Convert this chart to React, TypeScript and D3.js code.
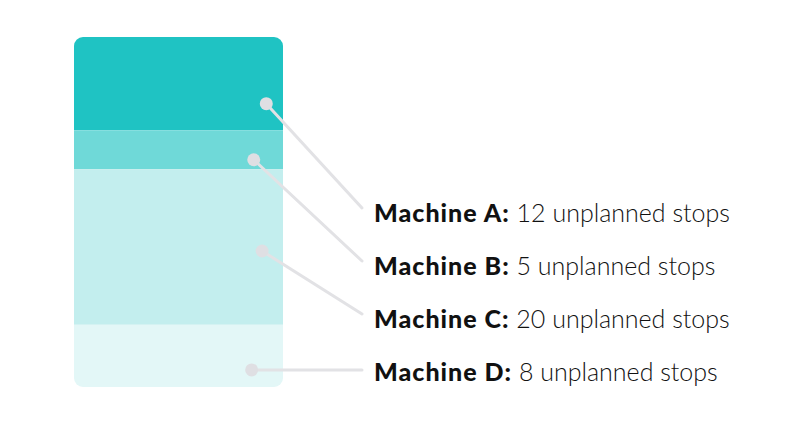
import { useEffect, useRef } from 'react';
import * as d3 from 'd3';

const machines = ['Machine A', 'Machine B', 'Machine C', 'Machine D'];
const stops = [12, 5, 20, 8];
const colors = ['#1fc3c3', '#6fd9d8', '#c3eeee', '#e3f7f7'];
// where each leader dot sits inside its segment (fraction of bar width, px below segment middle)
const dotX = [0.92, 0.86, 0.90, 0.85];
const dotDy = [20, 10, 4, 14];

const App = () => {
  const svgRef = useRef<SVGSVGElement>(null);

  useEffect(() => {
    const svg = d3.select(svgRef.current);
    svg.selectAll('*').remove();

    const width = 800;
    const height = 445;
    const bar = { x: 74, y: 37, w: 209, h: 350 };

    svg.attr('width', width).attr('height', height);

    const total = d3.sum(stops);
    const y = d3.scaleLinear().domain([0, total]).range([bar.y, bar.y + bar.h]);
    const starts = d3.cumsum([0, ...stops]);

    const defs = svg.append('defs');
    defs
      .append('clipPath')
      .attr('id', 'barClip')
      .append('rect')
      .attr('x', bar.x)
      .attr('y', bar.y)
      .attr('width', bar.w)
      .attr('height', bar.h)
      .attr('rx', 9);

    // stacked segments
    svg
      .append('g')
      .attr('clip-path', 'url(#barClip)')
      .selectAll('rect')
      .data(stops)
      .enter()
      .append('rect')
      .attr('x', bar.x)
      .attr('width', bar.w)
      .attr('y', (d, i) => y(starts[i]))
      .attr('height', d => y(d) - y(0))
      .attr('fill', (d, i) => colors[i]);

    // label rows
    const label = d3.scalePoint().domain(machines).range([222, 381]);
    const textX = 374;

    // leader lines + dots
    const lead = svg.append('g');
    machines.forEach((m, i) => {
      const mid = (y(starts[i]) + y(starts[i + 1])) / 2;
      const cy = mid + dotDy[i];
      const cx = bar.x + bar.w * dotX[i];
      const endY = i === 3 ? cy : label(m)! - 14;
      lead
        .append('line')
        .attr('x1', cx)
        .attr('y1', cy)
        .attr('x2', textX - 12)
        .attr('y2', endY)
        .attr('stroke', '#e2e2e5')
        .attr('stroke-width', 3)
        .attr('stroke-linecap', 'round');
      lead
        .append('circle')
        .attr('cx', cx)
        .attr('cy', cy)
        .attr('r', 6.5)
        .attr('fill', '#dfdfe3');
    });

    const texts = svg
      .append('g')
      .selectAll('text')
      .data(machines)
      .enter()
      .append('text')
      .attr('x', textX)
      .attr('y', d => label(d)!)
      .style('font-family', 'Lato, sans-serif')
      .style('font-size', '25px')
      .attr('fill', '#111');

    texts
      .append('tspan')
      .style('font-weight', 900)
      .style('letter-spacing', '1px')
      .text(d => d + ':');
    texts
      .append('tspan')
      .style('font-weight', 300)
      .text((d, i) => ` ${stops[i]} unplanned stops`);
  }, []);

  return <svg ref={svgRef} style={{ display: 'block', position: 'absolute', left: 0, top: 0 }}></svg>;
};

export default App;
